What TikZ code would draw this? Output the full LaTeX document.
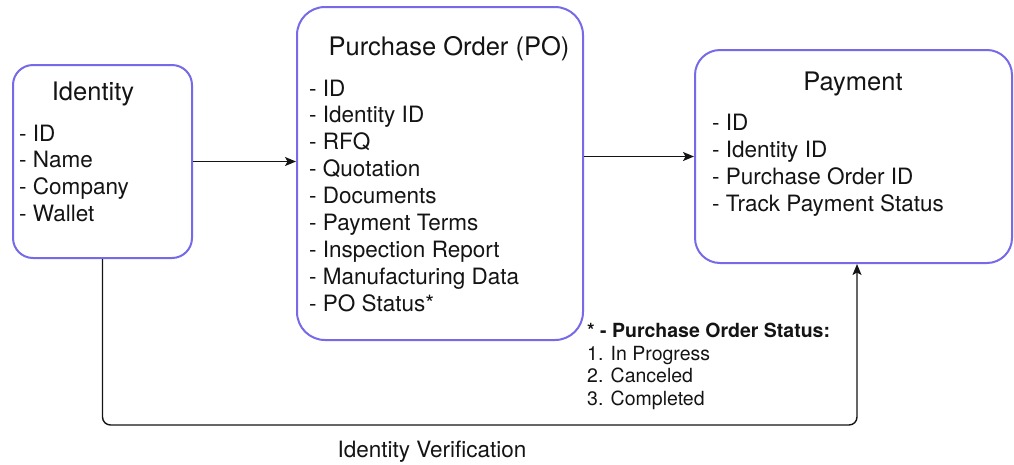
\documentclass[tikz,border=0pt]{standalone}
\usepackage{fontspec}
\setmainfont{TeX Gyre Heros}
\usetikzlibrary{arrows.meta}
\definecolor{boxline}{RGB}{118,106,232}
\definecolor{ink}{RGB}{20,20,20}
\begin{document}
\begin{tikzpicture}[x=1pt,y=-1pt,
  entity/.style={draw=boxline, line width=2pt, fill=white, inner sep=0pt},
  title/.style={font=\fontsize{25.5}{30}\selectfont, text=ink, anchor=base, inner sep=0pt},
  item/.style={font=\fontsize{22.5}{27}\selectfont, text=ink, anchor=base west, inner sep=0pt},
  note/.style={font=\fontsize{19.5}{23}\selectfont, text=ink, anchor=base west, inner sep=0pt},
  link/.style={draw=ink, line width=1.4pt, -{Stealth[length=11pt,width=9pt,inset=2.5pt]}}
]
\useasboundingbox (0,0) rectangle (1014,464);

% entity boxes
\node[entity, minimum width=179pt, minimum height=193pt, rounded corners=20pt] (identity) at (102.5,161.5) {};
\node[entity, minimum width=286pt, minimum height=333pt, rounded corners=28pt] (po) at (440,173.5) {};
\node[entity, minimum width=317pt, minimum height=213pt, rounded corners=25pt] (payment) at (853.5,156.5) {};

% titles
\node[title] (identityT) at (93,100) {Identity};
\node[title] (poT) at (449,55) {Purchase Order (PO)};
\node[title] (paymentT) at (853,90) {Payment};

% attribute lists
\foreach \t [count=\i from 0] in {ID, Name, Company, Wallet}
  \node[item] (identity-\i) at (19, {141+26.7*\i}) {- \t};
\foreach \t [count=\i from 0] in {ID, Identity ID, RFQ, Quotation, Documents, Payment Terms, Inspection Report, Manufacturing Data, PO Status*}
  \node[item] (po-\i) at (309, {96+26.9*\i}) {- \t};
\foreach \t [count=\i from 0] in {ID, Identity ID, Purchase Order ID, Track Payment Status}
  \node[item] (payment-\i) at (712, {130+27*\i}) {- \t};

% status legend
\node[note] (statusT) at (587,337) {\bfseries * - Purchase Order Status:};
\foreach \t [count=\i from 0] in {1. In Progress, 2. Canceled, 3. Completed}
  \node[note] (status-\i) at (587, {360+22.6*\i}) {\t};

% connectors
\draw[link] (identity.east) -- (identity.east -| po.west);
\draw[link] (po.east |- payment.west) -- (payment.west);
\coordinate (bend) at (857,425);
\draw[link, rounded corners=8pt] (identity.south) |- (bend) -- (bend |- payment.south);
\node[item, anchor=base] (verif) at (432,457) {Identity Verification};
\end{tikzpicture}
\end{document}
